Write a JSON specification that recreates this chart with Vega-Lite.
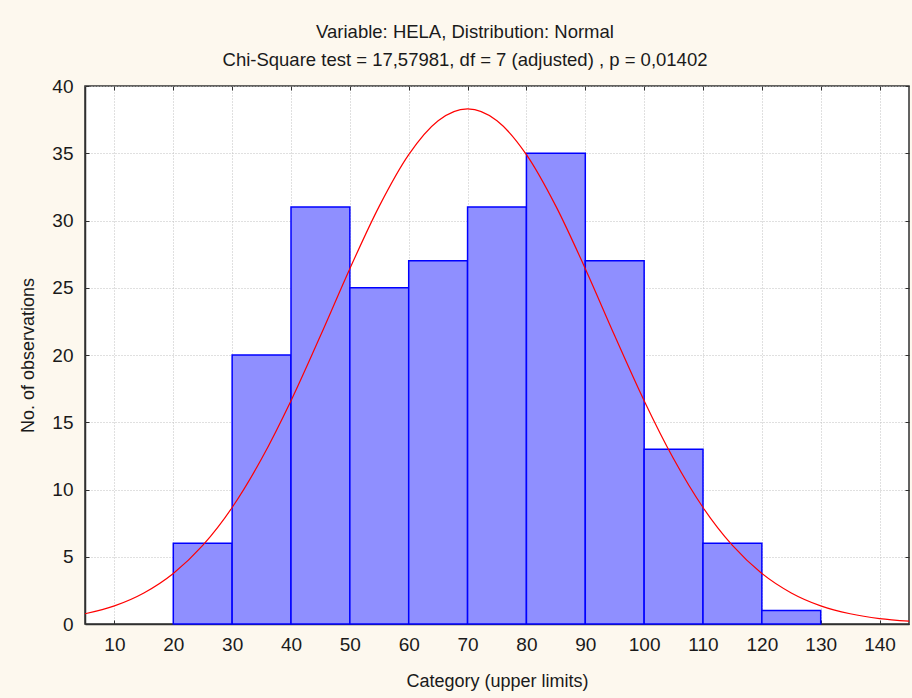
{
  "$schema": "https://vega.github.io/schema/vega-lite/v6.json",
  "width": 824,
  "height": 538,
  "autosize": {"type": "none"},
  "padding": {"left": 85, "top": 86, "right": 3, "bottom": 74},
  "background": "#fdf8ee",
  "config": {
    "font": "Liberation Sans",
    "view": {"fill": "white", "stroke": "#303030", "strokeWidth": 1.5},
    "axis": {
      "labelFont": "Liberation Sans",
      "titleFont": "Liberation Sans",
      "labelFontSize": 19,
      "titleFontSize": 18,
      "labelColor": "#1a1a1a",
      "titleColor": "#1a1a1a",
      "titleFontWeight": "normal",
      "domainColor": "#303030",
      "domainWidth": 1.5,
      "tickColor": "#303030",
      "gridColor": "#c0c0c0",
      "gridDash": [1, 2],
      "gridWidth": 1
    }
  },
  "title": {
    "text": ["Variable: HELA, Distribution: Normal", "Chi-Square test = 17,57981, df = 7 (adjusted) , p = 0,01402"],
    "font": "Liberation Sans",
    "fontSize": 18.5,
    "fontWeight": "normal",
    "color": "#1a1a1a",
    "lineHeight": 28,
    "offset": 8,
    "dx": -32,
    "anchor": "middle"
  },
  "resolve": {"axis": {"x": "independent", "y": "independent"}},
  "datasets": {
    "bins": [
      {"start": 20, "end": 30, "count": 6},
      {"start": 30, "end": 40, "count": 20},
      {"start": 40, "end": 50, "count": 31},
      {"start": 50, "end": 60, "count": 25},
      {"start": 60, "end": 70, "count": 27},
      {"start": 70, "end": 80, "count": 31},
      {"start": 80, "end": 90, "count": 35},
      {"start": 90, "end": 100, "count": 27},
      {"start": 100, "end": 110, "count": 13},
      {"start": 110, "end": 120, "count": 6},
      {"start": 120, "end": 130, "count": 1}
    ],
    "curve": [
      {"x": 5, "y": 0.76}, {"x": 10, "y": 1.35}, {"x": 15, "y": 2.31}, {"x": 20, "y": 3.76},
      {"x": 25, "y": 5.84}, {"x": 30, "y": 8.66}, {"x": 35, "y": 12.28}, {"x": 40, "y": 16.6},
      {"x": 45, "y": 21.43}, {"x": 50, "y": 26.42}, {"x": 55, "y": 31.07}, {"x": 60, "y": 34.9},
      {"x": 65, "y": 37.42}, {"x": 70, "y": 38.3}, {"x": 75, "y": 37.42}, {"x": 80, "y": 34.9},
      {"x": 85, "y": 31.07}, {"x": 90, "y": 26.42}, {"x": 95, "y": 21.43}, {"x": 100, "y": 16.6},
      {"x": 105, "y": 12.28}, {"x": 110, "y": 8.66}, {"x": 115, "y": 5.84}, {"x": 120, "y": 3.76},
      {"x": 125, "y": 2.31}, {"x": 130, "y": 1.35}, {"x": 135, "y": 0.76}, {"x": 140, "y": 0.4},
      {"x": 145, "y": 0.21}
    ]
  },
  "layer": [
    {
      "data": {"name": "bins"},
      "mark": {"type": "rect", "fill": "#8f8fff", "stroke": "#0000ff", "strokeWidth": 1.5},
      "encoding": {
        "x": {
          "field": "start", "type": "quantitative",
          "scale": {"domain": [5, 145], "nice": false, "zero": false},
          "axis": {
            "title": "Category (upper limits)",
            "values": [10, 20, 30, 40, 50, 60, 70, 80, 90, 100, 110, 120, 130, 140],
            "tickSize": -4,
            "labelPadding": 15,
            "titlePadding": 18,
            "grid": true
          }
        },
        "x2": {"field": "end"},
        "y": {
          "field": "count", "type": "quantitative",
          "scale": {"domain": [0, 40], "nice": false},
          "axis": {
            "title": "No. of observations",
            "values": [0, 5, 10, 15, 20, 25, 30, 35, 40],
            "tickSize": -4,
            "labelPadding": 16,
            "titlePadding": 14,
            "grid": true
          }
        },
        "y2": {"datum": 0}
      }
    },
    {
      "data": {"name": "curve"},
      "mark": {"type": "line", "color": "#ff0000", "strokeWidth": 1.2, "interpolate": "monotone", "clip": true},
      "encoding": {
        "x": {"field": "x", "type": "quantitative",
          "axis": {"orient": "top", "labels": false, "title": null, "grid": false, "domain": false, "tickSize": -4,
                   "values": [10, 20, 30, 40, 50, 60, 70, 80, 90, 100, 110, 120, 130, 140]}},
        "y": {"field": "y", "type": "quantitative",
          "axis": {"orient": "right", "labels": false, "title": null, "grid": false, "domain": false, "tickSize": -4,
                   "values": [0, 5, 10, 15, 20, 25, 30, 35, 40]}}
      }
    }
  ]
}
